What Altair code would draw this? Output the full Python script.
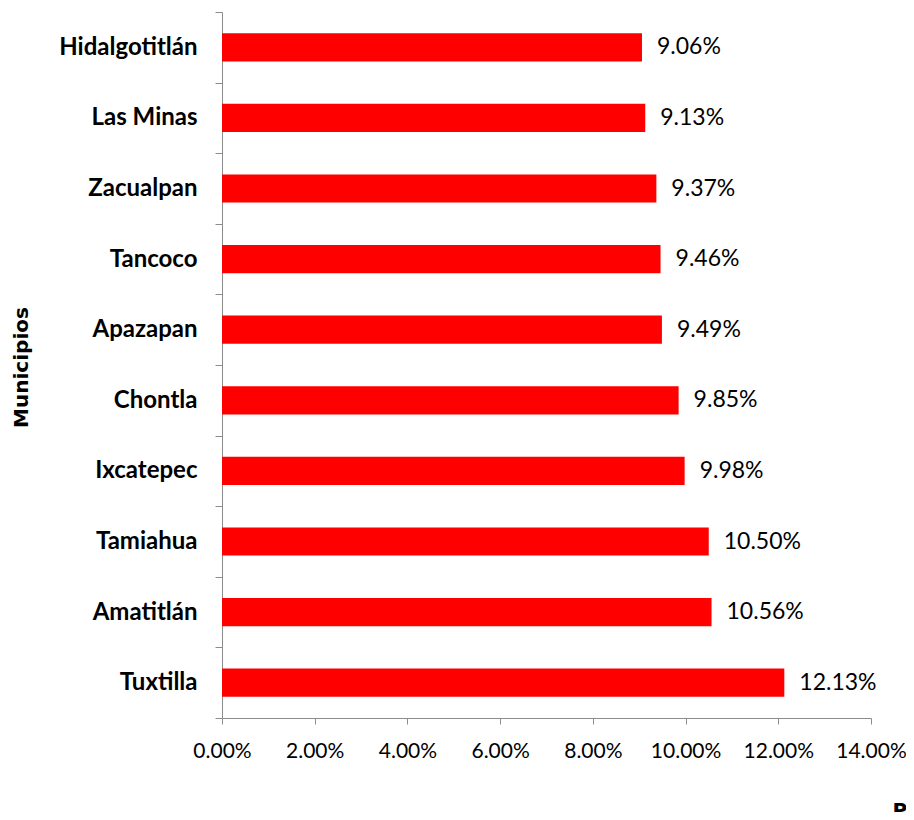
import altair as alt
import pandas as pd

municipios = ["Hidalgotitlán", "Las Minas", "Zacualpan", "Tancoco", "Apazapan",
              "Chontla", "Ixcatepec", "Tamiahua", "Amatitlán", "Tuxtilla"]
porcentajes = [9.06, 9.13, 9.37, 9.46, 9.49, 9.85, 9.98, 10.50, 10.56, 12.13]
x_ticks = [0, 2, 4, 6, 8, 10, 12, 14]

df = pd.DataFrame({"Municipio": municipios, "Porcentaje": porcentajes})
df["label"] = [f"{v:.2f}%" for v in porcentajes]

FONT = "Lato"
GRAY = "#8c8c8c"

y_enc = alt.Y(
    "Municipio:N", sort=municipios,
    scale=alt.Scale(paddingInner=0, paddingOuter=0),
    axis=alt.Axis(
        title="Municipios", titleFont="DejaVu Sans", titleFontSize=20, titleFontWeight="bold",
        titleColor="black", titleX=-201, titleY=355, titleAngle=-90,
        titleAlign="center", titleBaseline="middle",
        labelFont=FONT, labelFontSize=24, labelFontWeight="bold", labelColor="black",
        labelPadding=18, tickSize=7, tickBand="extent", tickColor=GRAY,
        domainColor=GRAY, grid=False,
    ),
)

x_enc = alt.X(
    "Porcentaje:Q",
    scale=alt.Scale(domain=[0, 14], nice=False),
    axis=alt.Axis(
        values=x_ticks, labelExpr="format(datum.value, '.2f') + '%'",
        labelOverlap=False, labelFlush=False,
        title="Porcentaje", titleFont="DejaVu Sans", titleFontSize=20, titleFontWeight="bold",
        titleColor="black", titleX=670, titleY=82, titleAlign="left",
        titleBaseline="top", titleAnchor="start",
        labelFont=FONT, labelFontSize=21, labelColor="black", labelPadding=16,
        tickSize=6, tickColor=GRAY, domainColor=GRAY, grid=False,
    ),
)

base = alt.Chart(df)
bars = base.mark_bar(color="#ff0000", height=alt.RelativeBandSize(0.4)).encode(x=x_enc, y=y_enc)
text = base.mark_text(align="left", baseline="middle", dx=15, font=FONT, fontSize=23,
                      color="black").encode(x="Porcentaje:Q", y=alt.Y("Municipio:N", sort=municipios),
                                            text="label:N")

chart = (bars + text).properties(
    width=649, height=706,
    autosize=alt.AutoSizeParams(type="none"),
    padding={"left": 214, "top": 4, "right": 35, "bottom": 94},
).configure_view(stroke=None)

chart.save("out.html", embed_options={"renderer": "svg", "actions": False})
